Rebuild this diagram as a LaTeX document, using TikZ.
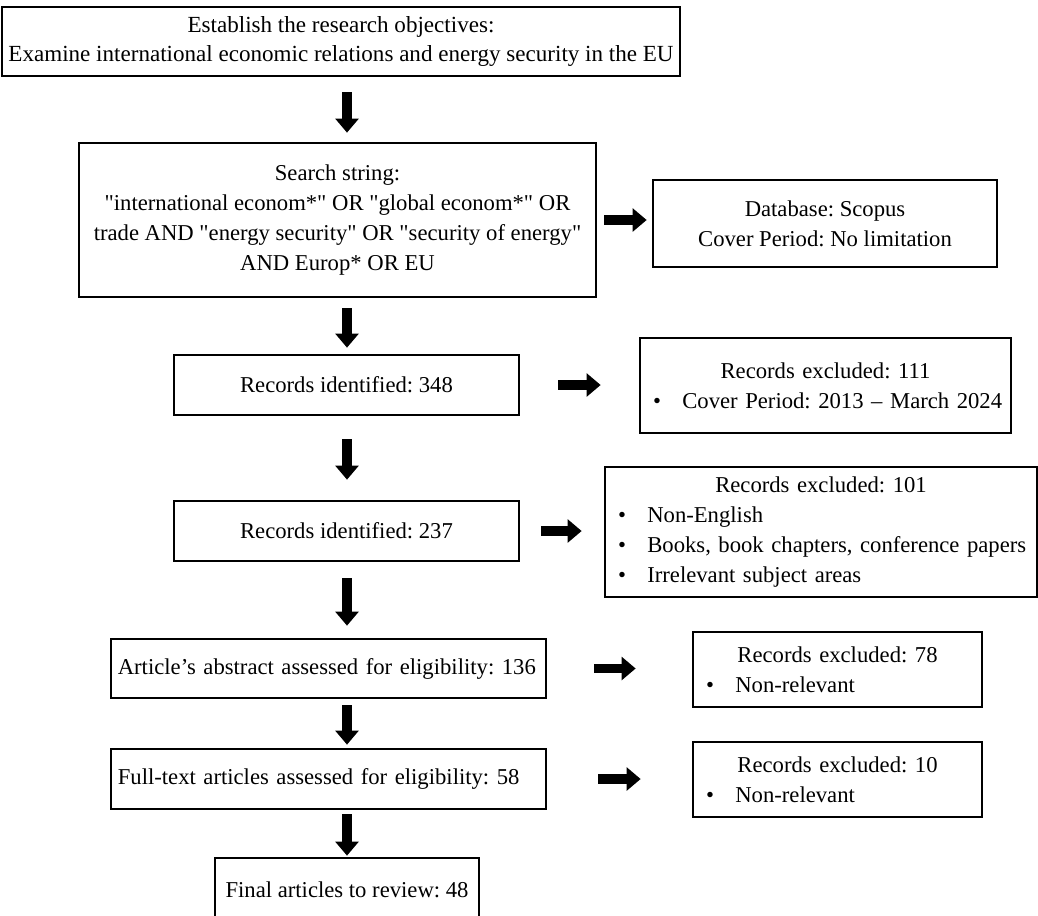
\documentclass[tikz,border=0pt]{standalone}
\usepackage{fontspec}
\setmainfont{Liberation Serif}[Ligatures=TeXOff]
\usepackage{tikz}
\usetikzlibrary{arrows.meta}
\newcommand{\bul}{\hspace*{9.75pt}\makebox[22pt][l]{\textbullet}}
\newcommand{\ttl}[1]{\makebox[\hsize]{#1}}
\frenchspacing

\begin{document}
\begin{tikzpicture}[x=0.75pt,y=-0.75pt,
   box/.style={draw, line width=2pt, align=center, inner sep=0pt, font=\fontsize{17pt}{22.5pt}\selectfont},
   exbox/.style={box, align=left},
   fat/.style={-{Triangle[width=17pt,length=10.5pt]}, line width=7pt}]
\useasboundingbox (0,0) rectangle (1038,915);
           \node[box, font=\fontsize{17.3pt}{21.75pt}\selectfont, minimum width=508.5pt, minimum height=51.75pt](goal) at (341,41.5) {Establish the research objectives:\\Examine international economic relations and energy security in the EU};
           \node[box, minimum width=387.75pt, minimum height=115.5pt](search) at (337.5,220) {Search string:\\"international econom*" OR "global econom*" OR\\trade AND "energy security" OR "security of energy"\\AND Europ* OR EU};
           \node[box, minimum width=258pt, minimum height=65.25pt](db) at (825,223.5) {Database: Scopus\\Cover Period: No limitation};
      \node[box, minimum width=258.75pt, minimum height=45pt](id348) at (346.5,385) {Records identified: 348};
      \node[exbox, text width=278.25pt, minimum height=71.25pt](ex111) at (825.5,385.5) {\ttl{Records excluded: 111}\\\bul Cover Period: 2013 – March 2024};
      \node[box, minimum width=258.75pt, minimum height=45pt](id237) at (346.5,531) {Records identified: 237};
      \node[exbox, text width=324pt, minimum height=97.5pt](ex101) at (821,532) {\ttl{Records excluded: 101}\\\bul Non-English\\\bul Books, book chapters, conference papers\\\bul Irrelevant subject areas};
      \node[exbox, text width=316pt, inner xsep=5.125pt, minimum height=44.25pt](abstract) at (328.5,668.5) {Article’s abstract assessed for eligibility: 136};
      \node[exbox, text width=216.75pt, minimum height=56.25pt](ex78) at (837.5,669.5) {\ttl{Records excluded: 78}\\\bul Non-relevant};
      \node[exbox, text width=316pt, inner xsep=5.125pt, minimum height=45pt](fulltext) at (328.5,779) {Full-text articles assessed for eligibility: 58};
      \node[exbox, text width=216.75pt, minimum height=56.25pt](ex10) at (837.5,779.5) {\ttl{Records excluded: 10}\\\bul Non-relevant};
      \node[box, minimum width=198pt, minimum height=48pt](final) at (347,890) {Final articles to review: 48};
      \draw[fat, shorten <=11.25pt, shorten >=6.75pt] (goal.south -| final) -- (search.north -| final);
      \draw[fat, shorten <=7.5pt, shorten >=4.5pt] (search.south -| final) -- (id348.north -| final);
      \draw[fat, shorten <=17.25pt, shorten >=15pt] (id348.south -| final) -- (id237.north -| final);
      \draw[fat, shorten <=12pt, shorten >=9pt] (id237.south -| final) -- (abstract.north -| final);
      \draw[fat, shorten <=4.5pt, shorten >=2.25pt] (abstract.south -| final) -- (fulltext.north -| final);
      \draw[fat, shorten <=3pt, shorten >=0.75pt] (fulltext.south -| final) -- (final.north);
       \draw[fat, shorten <=5.25pt, shorten >=3.75pt] (search.east) -- (search.east -| db.west);
       \draw[fat, shorten <=28.5pt, shorten >=28.5pt] (id348.east) -- (id348.east -| ex111.west);
       \draw[fat, shorten <=15.75pt, shorten >=16.5pt] (id237.east) -- (id237.east -| ex101.west);
       \draw[fat, shorten <=35.25pt, shorten >=42pt] (abstract.east) -- (abstract.east -| ex78.west);
       \draw[fat, shorten <=38.25pt, shorten >=38.25pt] (fulltext.east) -- (fulltext.east -| ex10.west);
          \end{tikzpicture}
\end{document}
